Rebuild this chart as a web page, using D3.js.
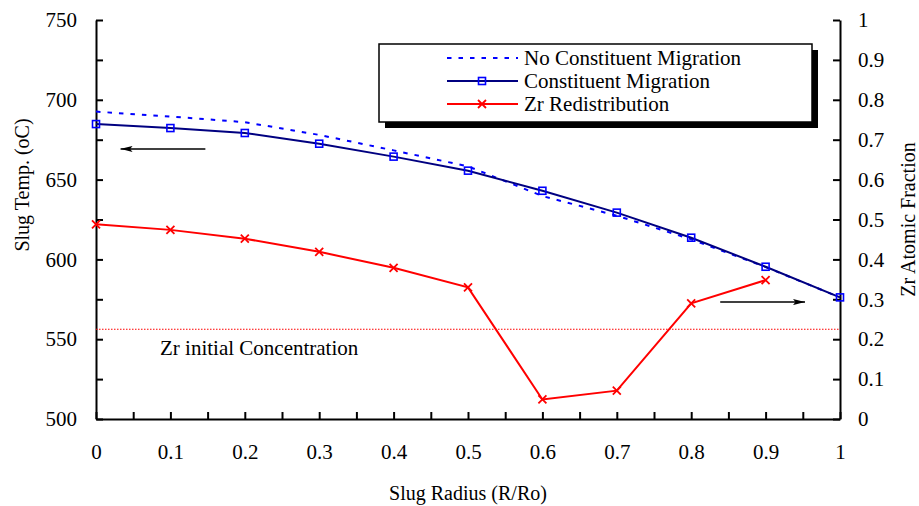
<!DOCTYPE html>
<html>
<head>
<meta charset="utf-8">
<script src="https://cdn.jsdelivr.net/npm/d3@7"></script>
<style>
  body { margin: 0; background: #fff; }
  svg text { font-family: "Liberation Serif", "Times New Roman", serif; fill: #000; }
</style>
</head>
<body>
<div id="chart"></div>
<script>
// data
const radius = [0, 0.1, 0.2, 0.3, 0.4, 0.5, 0.6, 0.7, 0.8, 0.9, 1.0]
const tempNoMigration = [692.6, 689.5, 686, 678, 668.3, 658.3, 639.7, 627.4, 612.6, 595.2, 576.2]
const tempMigration = [684.8, 682.3, 679.2, 672.5, 664.4, 655.6, 643, 629.3, 613.6, 595.4, 576.2]
const zrRadius = [0, 0.1, 0.2, 0.3, 0.4, 0.5, 0.6, 0.7, 0.8, 0.9]
const zrFraction = [0.488, 0.474, 0.452, 0.419, 0.379, 0.330, 0.049, 0.071, 0.290, 0.348]
const zrInitial = 0.225

const xTicks = [0, 0.1, 0.2, 0.3, 0.4, 0.5, 0.6, 0.7, 0.8, 0.9, 1]
const yLeftTicks = [500, 550, 600, 650, 700, 750]
const yRightTicks = [0, 0.1, 0.2, 0.3, 0.4, 0.5, 0.6, 0.7, 0.8, 0.9, 1]

const legendNames = ["No Constituent Migration", "Constituent Migration", "Zr Redistribution"]

let width = 919, height = 506
let margin = {top: 20, right: 79, bottom: 87, left: 96}
let w = width - margin.left - margin.right
let h = height - margin.top - margin.bottom

let svg = d3.select('#chart').append('svg')
    .attr('width', width)
    .attr('height', height)

let g = svg.append('g')
    .attr('transform', "translate(" + margin.left + "," + margin.top + ")")

let x = d3.scaleLinear().domain([0, 1]).range([0, w])
let yL = d3.scaleLinear().domain([500, 750]).range([h, 0])
let yR = d3.scaleLinear().domain([0, 1]).range([h, 0])

let fmt = d => xTicks.some(t => Math.abs(t - d) < 1e-9) ? d3.format("~g")(d) : ""

// axes
let minorX = d3.range(0, 1.0001, 0.05).map(d => +d.toFixed(2))
let xAxis = d3.axisBottom(x).tickValues(minorX).tickSize(-7).tickSizeOuter(0)
    .tickPadding(25).tickFormat(fmt)
let yAxisL = d3.axisLeft(yL).tickValues(d3.range(500, 751, 25)).tickSize(-7).tickSizeOuter(0)
    .tickPadding(19).tickFormat(d => yLeftTicks.includes(d) ? d : "")
let yAxisR = d3.axisRight(yR).tickValues(yRightTicks).tickSize(-7).tickSizeOuter(0)
    .tickPadding(18).tickFormat(d3.format("~g"))

g.append('g').attr('class', 'axis')
    .attr('transform', "translate(0," + h + ")").call(xAxis)
g.append('g').attr('class', 'axis').call(yAxisL)
g.append('g').attr('class', 'axis')
    .attr('transform', "translate(" + w + ",0)").call(yAxisR)

g.selectAll('.axis').attr('font-family', null)
g.selectAll('.axis path, .axis line').attr('stroke', '#000').attr('stroke-width', 2)
g.selectAll('.axis text').style('font-size', '21px')
    .style('font-family', '"Liberation Serif", "Times New Roman", serif')

// axis titles
svg.append('text')
    .attr('transform', "translate(29,185) rotate(-90)")
    .attr('text-anchor', 'middle')
    .style('font-size', '20px')
    .text('Slug Temp. (oC)')

svg.append('text')
    .attr('transform', "translate(915," + (margin.top + h / 2) + ") rotate(-90)")
    .attr('text-anchor', 'middle')
    .style('font-size', '20px')
    .text('Zr Atomic Fraction')

svg.append('text')
    .attr('x', margin.left + w / 2)
    .attr('y', 500)
    .attr('text-anchor', 'middle')
    .style('font-size', '20px')
    .text('Slug Radius (R/Ro)')

// zr initial concentration line
g.append('line')
    .attr('x1', x(0)).attr('x2', x(1))
    .attr('y1', yR(zrInitial)).attr('y2', yR(zrInitial))
    .attr('stroke', '#ff0000').attr('stroke-width', 1.2)
    .attr('stroke-dasharray', '1.5,1.5')

g.append('text')
    .attr('x', 64)
    .attr('y', 335)
    .style('font-size', '21px')
    .text('Zr initial Concentration')

// lines
let lineL = d3.line().x((d, i) => x(radius[i])).y(d => yL(d))
let lineR = d3.line().x((d, i) => x(zrRadius[i])).y(d => yR(d))

g.append('path').datum(tempNoMigration)
    .attr('d', lineL)
    .attr('fill', 'none').attr('stroke', '#0000ff').attr('stroke-width', 2)
    .attr('stroke-dasharray', '4.5,7')

g.append('path').datum(tempMigration)
    .attr('d', lineL)
    .attr('fill', 'none').attr('stroke', '#000080').attr('stroke-width', 2)

g.append('path').datum(zrFraction)
    .attr('d', lineR)
    .attr('fill', 'none').attr('stroke', '#ff0000').attr('stroke-width', 2)

function squareMark(sel) {
    sel.append('rect')
        .attr('x', -3.5).attr('y', -3.5).attr('width', 7).attr('height', 7)
        .attr('fill', 'none').attr('stroke', '#0000ff').attr('stroke-width', 1.6)
}
function crossMark(sel) {
    sel.append('path')
        .attr('d', 'M-4,-4L4,4M-4,4L4,-4')
        .attr('stroke', '#ff0000').attr('stroke-width', 1.8)
}

g.selectAll('.sq').data(tempMigration).enter().append('g')
    .attr('class', 'sq')
    .attr('transform', (d, i) => "translate(" + x(radius[i]) + "," + yL(d) + ")")
    .call(squareMark)

g.selectAll('.cr').data(zrFraction).enter().append('g')
    .attr('class', 'cr')
    .attr('transform', (d, i) => "translate(" + x(zrRadius[i]) + "," + yR(d) + ")")
    .call(crossMark)

// arrows
svg.append('defs').append('marker')
    .attr('id', 'head')
    .attr('viewBox', '0 0 10 10')
    .attr('refX', 10).attr('refY', 5)
    .attr('markerWidth', 12).attr('markerHeight', 6)
    .attr('markerUnits', 'userSpaceOnUse')
    .attr('orient', 'auto')
    .attr('preserveAspectRatio', 'none')
    .append('path').attr('d', 'M0,0L10,5L0,10L2,5z').attr('fill', '#000')

g.append('line')
    .attr('x1', x(0.147)).attr('x2', x(0.033))
    .attr('y1', yL(669.2)).attr('y2', yL(669.2))
    .attr('stroke', '#000').attr('stroke-width', 1.5)
    .attr('marker-end', 'url(#head)')

g.append('line')
    .attr('x1', x(0.839)).attr('x2', x(0.953))
    .attr('y1', yR(0.293)).attr('y2', yR(0.293))
    .attr('stroke', '#000').attr('stroke-width', 1.5)
    .attr('marker-end', 'url(#head)')

// legend
let lg = svg.append('g').attr('transform', "translate(379,44)")
lg.append('rect').attr('x', 6).attr('y', 6).attr('width', 433).attr('height', 78).attr('fill', '#000')
lg.append('rect').attr('x', 0).attr('y', 0).attr('width', 433).attr('height', 78)
    .attr('fill', '#fff').attr('stroke', '#000').attr('stroke-width', 1.5)

let rows = lg.selectAll('.row').data(legendNames).enter().append('g')
    .attr('class', 'row')
    .attr('transform', (d, i) => "translate(0," + (14 + i * 23) + ")")

rows.append('line')
    .attr('x1', 68).attr('x2', 139).attr('y1', 0).attr('y2', 0)
    .attr('stroke', (d, i) => ['#0000ff', '#000080', '#ff0000'][i])
    .attr('stroke-width', 2)
    .attr('stroke-dasharray', (d, i) => i == 0 ? '4.5,7' : null)

rows.filter((d, i) => i == 1).append('g').attr('transform', 'translate(103,0)').call(squareMark)
rows.filter((d, i) => i == 2).append('g').attr('transform', 'translate(103,0)').call(crossMark)

rows.append('text')
    .attr('x', 145).attr('y', 7)
    .style('font-size', '21px')
    .text(d => d)
</script>
</body>
</html>
